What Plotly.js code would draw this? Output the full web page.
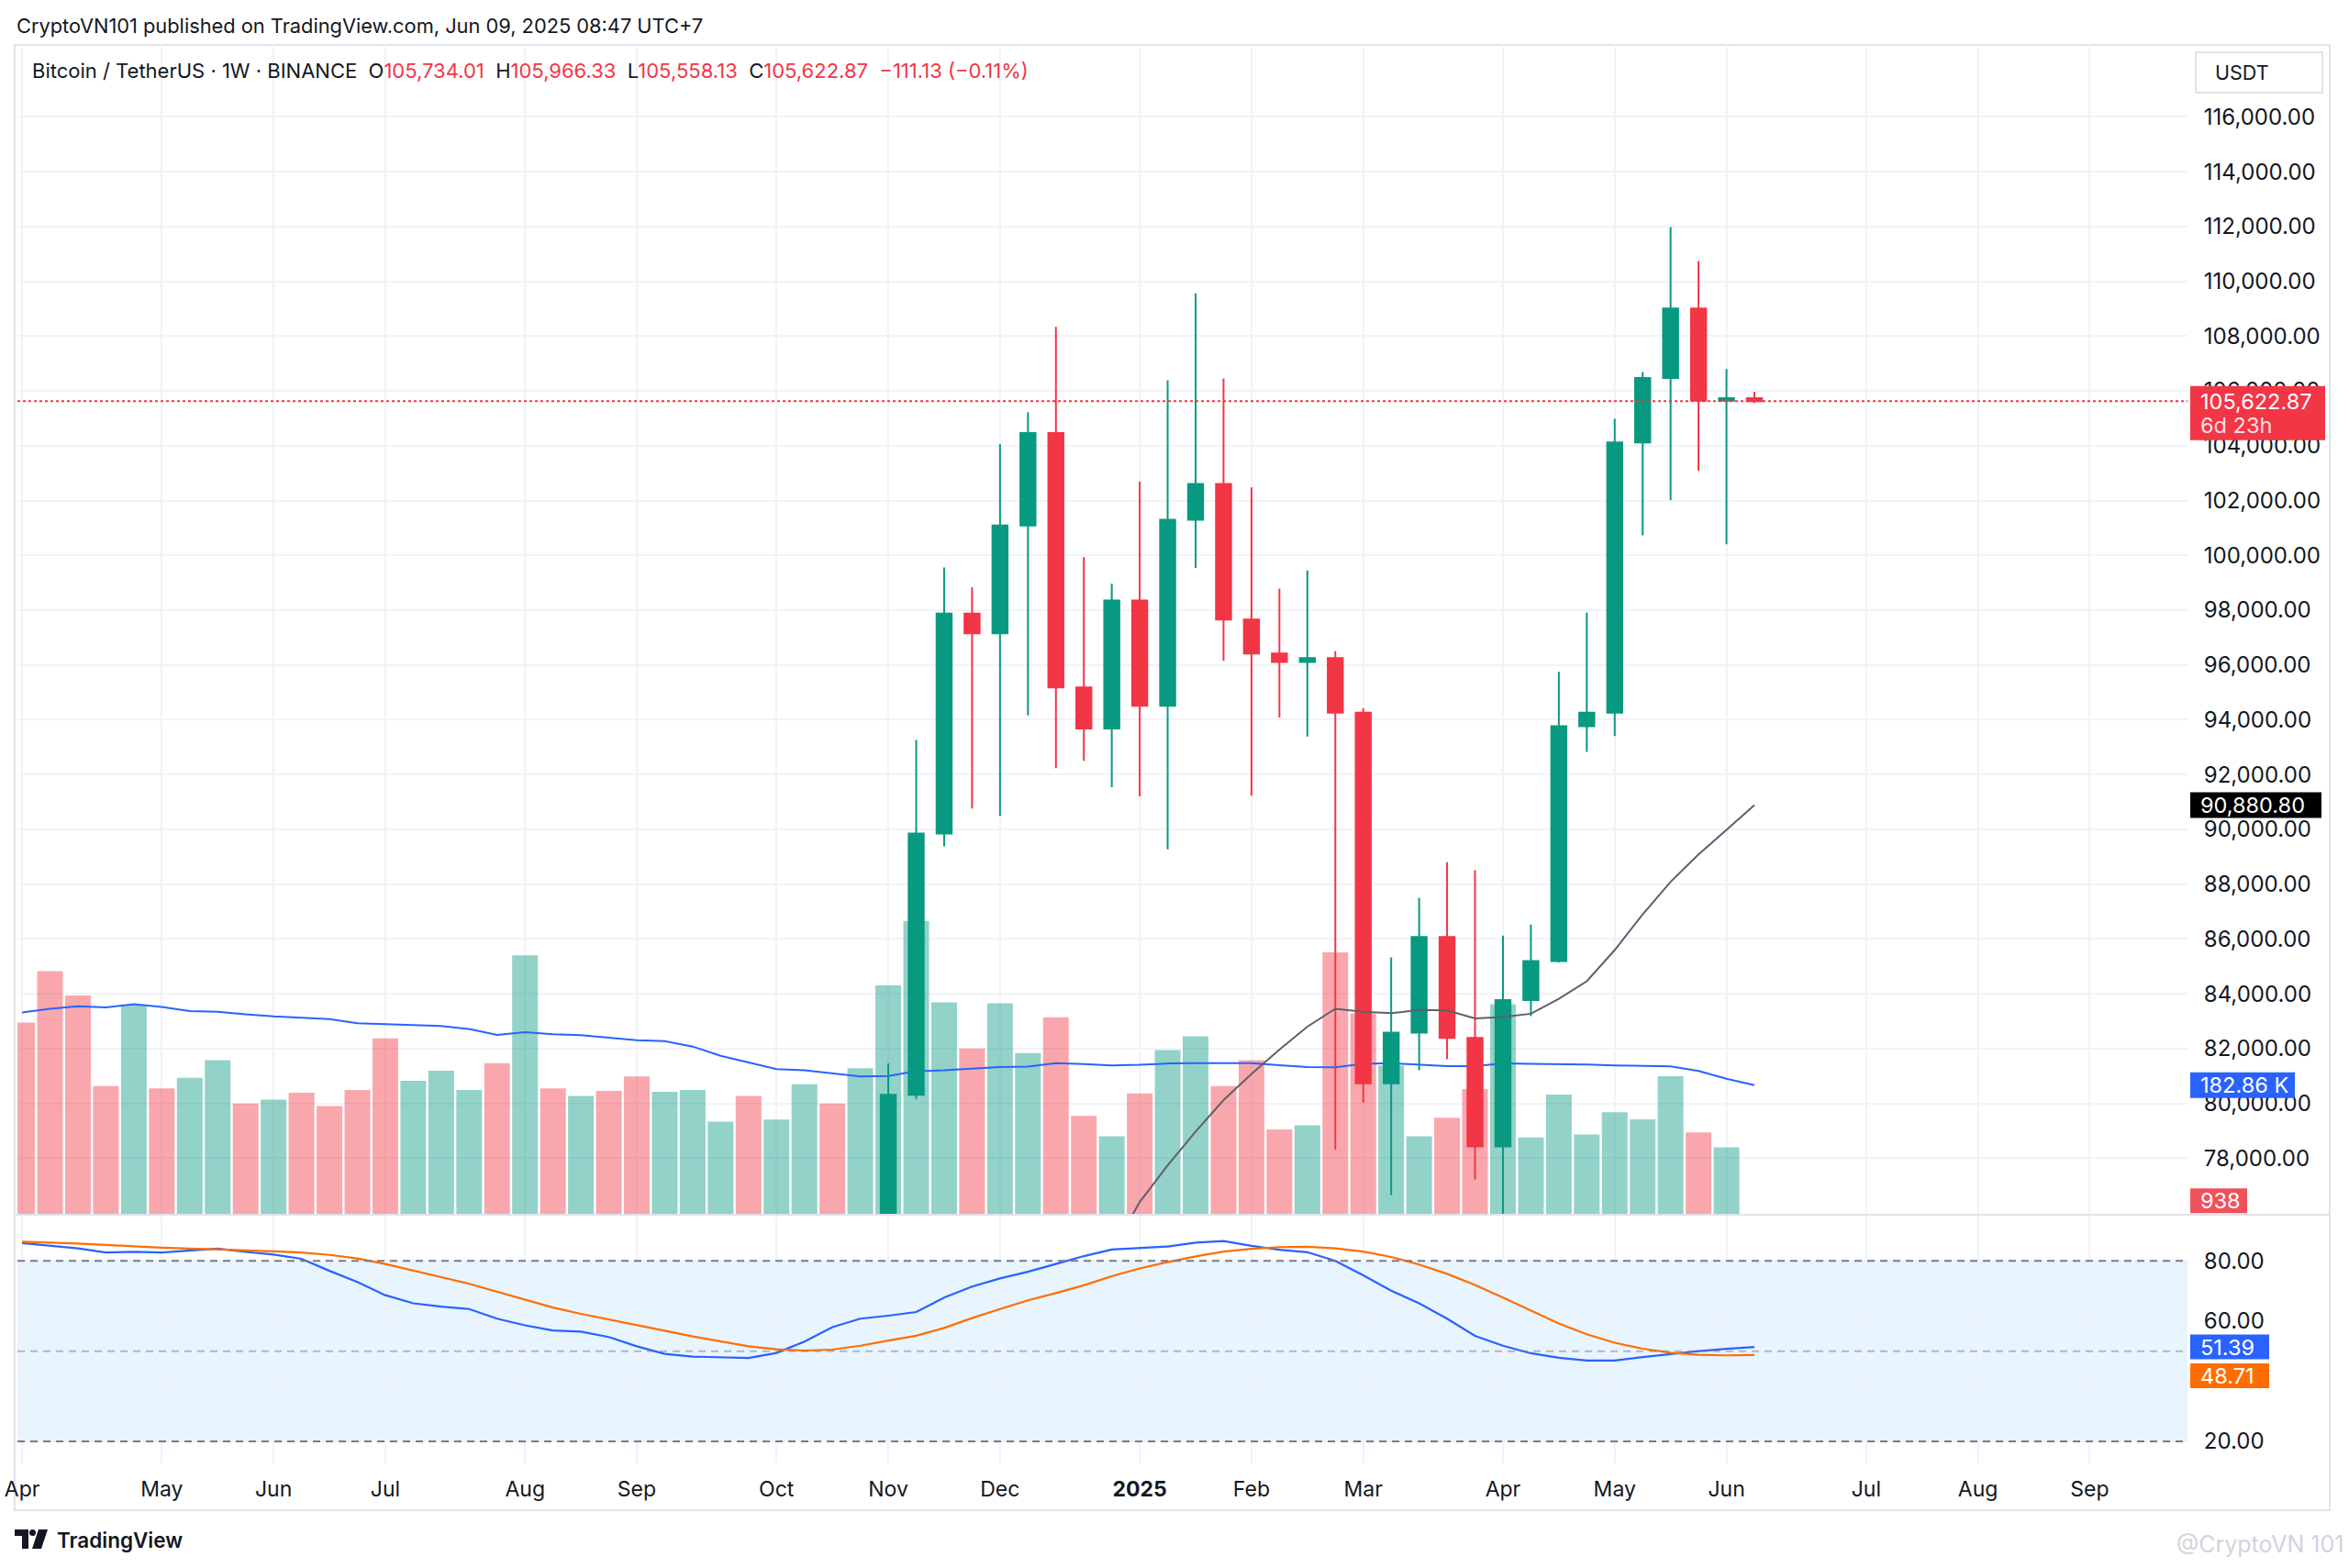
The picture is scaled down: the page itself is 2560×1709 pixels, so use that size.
<!DOCTYPE html>
<html><head><meta charset="utf-8">
<script src="https://cdn.plot.ly/plotly-3.0.1.min.js"></script>
<style>html,body{margin:0;padding:0;background:#fff}#chart{width:2560px;height:1709px}</style>
</head><body><div id="chart"></div>
<script>
// ---------------- DATA ----------------
const weekDates = [
 '2024-04-01','2024-04-08','2024-04-15','2024-04-22','2024-04-29','2024-05-06','2024-05-13','2024-05-20','2024-05-27',
 '2024-06-03','2024-06-10','2024-06-17','2024-06-24','2024-07-01','2024-07-08','2024-07-15','2024-07-22','2024-07-29',
 '2024-08-05','2024-08-12','2024-08-19','2024-08-26','2024-09-02','2024-09-09','2024-09-16','2024-09-23','2024-09-30',
 '2024-10-07','2024-10-14','2024-10-21','2024-10-28','2024-11-04','2024-11-11','2024-11-18','2024-11-25',
 '2024-12-02','2024-12-09','2024-12-16','2024-12-23','2024-12-30','2025-01-06','2025-01-13','2025-01-20','2025-01-27',
 '2025-02-03','2025-02-10','2025-02-17','2025-02-24','2025-03-03','2025-03-10','2025-03-17','2025-03-24','2025-03-31',
 '2025-04-07','2025-04-14','2025-04-21','2025-04-28','2025-05-05','2025-05-12','2025-05-19','2025-05-26','2025-06-02','2025-06-09'
];
const volumes = [
 271200,343900,309400,181600,296400,178300,193400,218200,156900,162600,
 172100,153500,176000,249100,189100,203400,176000,213900,366000,178300,
 167800,174700,195200,173400,176000,131300,167800,134300,184300,156900,206900,
 323800,414700,299900,234700,298600,228200,278700,139500,110800,
 171200,232500,251700,181600,218200,120400,126100,370300,284300,210600,
 110800,136900,177300,297300,109000,169500,113400,144700,134800,195600,116100,95200,938
];
// direction of the weekly bars before the first visible candle (1 = up week, 0 = down week)
const earlyVolumeUp = [0,0,0,0,1,0,1,1,0,1,0,0,0,0,1,1,1,0,1,0,1,0,0,1,1,1,0,1,1,0,1];
const volumeMA = [
 285600,290600,294300,292700,297300,293400,287600,286600,282900,279900,
 278200,276100,270400,269100,267800,266300,262100,253900,257800,254700,
 253400,249900,246500,245100,237400,224300,214700,205600,203900,199500,195100,
 196000,202500,203900,206100,208600,209100,213900,212600,210800,
 211700,213500,213900,213900,213900,211200,208600,208200,213000,213900,
 211700,209900,209900,213500,213000,212600,212200,210800,209900,209500,203000,192000,182860
];
const stochK = [
 85.9,85.1,84.2,82.8,83.0,82.8,83.4,84.1,83.0,82.1,
 80.7,76.7,73.0,68.6,65.9,64.8,64.0,60.8,58.6,56.9,
 56.5,54.7,51.6,49.1,48.2,47.9,47.7,49.4,53.2,58.0,60.8,
 61.8,63.0,67.8,71.5,74.2,76.4,79.0,81.6,83.8,
 84.3,84.8,86.1,86.6,85.0,83.7,82.9,80.0,75.2,70.1,
 65.9,60.8,55.1,51.8,49.3,47.8,46.9,46.9,48.0,49.1,50.0,50.8,51.39
];
const stochD = [
 86.4,86.2,85.8,85.3,84.8,84.4,84.1,83.9,83.5,83.2,
 82.8,82.0,80.8,79.0,76.9,74.6,72.4,69.8,67.1,64.5,
 62.4,60.6,58.7,56.8,54.9,53.2,51.6,50.6,50.2,50.5,51.8,
 53.5,55.1,57.7,61.0,64.0,66.9,69.3,71.9,74.9,
 77.5,79.6,81.5,83.1,84.0,84.6,84.7,84.2,83.1,81.3,
 78.8,75.7,72.0,67.8,63.5,59.2,55.6,52.8,50.8,49.5,48.8,48.6,48.71
];
// candles visible in the price pane (from 2024-11-04)
const candleOpen = [68742,80310,89850,97870,97150,101090,104460,95180,93680,98350,94510,101300,102600,97660,96420,96110,
 96250,94260,80730,82580,86070,82390,78430,83770,85190,93760,94260,104120,106470,109010,105640,105734.01];
const candleHigh = [81460,93260,99560,98840,104060,105220,108340,99930,98960,102690,106390,109560,106450,102480,98790,99450,
 96500,94420,85330,87490,88800,88510,86120,86520,95750,97910,104980,106690,111980,110740,106800,105966.33];
const candleLow = [66835,80160,89380,90760,90490,94160,92230,92500,91540,91200,89270,99540,96150,91230,94080,93390,
 78310,80020,76650,81210,81610,77220,74510,83180,85140,92830,93400,100730,102010,103080,100400,105558.13];
const candleClose = [80310,89850,97870,97150,101090,104460,95180,93680,98350,94510,101300,102600,97660,96420,96110,96250,
 94260,80730,82580,86070,82390,78430,83770,85190,93760,94260,104120,106470,109010,105640,105734.00,105622.87];
// price moving average line (from 2024-12-30)
const priceMA = [74600,76400,77740,78970,80120,81070,81960,82800,83450,83340,83290,83410,83390,83100,83150,83270,
 83815,84456,85594,86899,88085,89082,89983,90880.80];
// axis ticks
const monthTickDates = ['2024-04-01','2024-05-06','2024-06-03','2024-07-01','2024-08-05','2024-09-02','2024-10-07',
 '2024-11-04','2024-12-02','2025-01-06','2025-02-03','2025-03-03','2025-04-07','2025-05-05','2025-06-02',
 '2025-07-07','2025-08-04','2025-09-01'];
const monthTickLabels = ['Apr','May','Jun','Jul','Aug','Sep','Oct','Nov','Dec','<b>2025</b>','Feb','Mar','Apr','May','Jun','Jul','Aug','Sep'];
const priceTicks = [78000,80000,82000,84000,86000,88000,90000,92000,94000,96000,98000,100000,
 102000,104000,106000,108000,110000,112000,114000,116000];
const stochTicks = [20,40,60,80];
const stochTickLabels = ['20.00','','60.00','80.00'];

// ---------------- derived ----------------
const candleDates = weekDates.slice(weekDates.indexOf('2024-11-04'));
const maDates = weekDates.slice(weekDates.indexOf('2024-12-30'));
const UP = '#089981', DOWN = '#F23645';
const volUp = earlyVolumeUp.concat(candleClose.map((c, i) => c >= candleOpen[i] ? 1 : 0));
const volColors = volUp.map(u => u ? 'rgba(8,153,129,0.44)' : 'rgba(242,54,69,0.44)');
const n = candleClose.length;
const lastO = candleOpen[n-1], lastH = candleHigh[n-1], lastL = candleLow[n-1], lastC = candleClose[n-1];
const chg = lastC - candleClose[n-2];
const fmt2 = v => v.toLocaleString('en-US', {minimumFractionDigits: 2, maximumFractionDigits: 2});
const fmtSigned = v => (v < 0 ? '\u2212' : '+') + fmt2(Math.abs(v));

const W = 2560, H = 1709;
const px = v => v / W, py = v => 1 - v / H;
const FONT = 'Inter, "Noto Sans", Roboto, sans-serif';
const TXT = '#131722';

// ---------------- traces ----------------
const traces = [
 {type:'bar', x:weekDates, y:volumes, xaxis:'x', yaxis:'y', marker:{color:volColors, line:{width:0}}, hoverinfo:'skip'},
 {type:'scatter', mode:'lines', x:weekDates, y:volumeMA, xaxis:'x', yaxis:'y', line:{color:'#2962FF', width:2}, hoverinfo:'skip'},
 {type:'candlestick', x:candleDates, open:candleOpen, high:candleHigh, low:candleLow, close:candleClose, xaxis:'x', yaxis:'y3',
  increasing:{line:{color:UP, width:2}, fillcolor:UP}, decreasing:{line:{color:DOWN, width:2}, fillcolor:DOWN},
  whiskerwidth:0, hoverinfo:'skip'},
 {type:'scatter', mode:'lines', x:maDates, y:priceMA, xaxis:'x', yaxis:'y3', line:{color:'#5d606b', width:2}, hoverinfo:'skip'},
 {type:'scatter', mode:'lines', x:weekDates, y:stochK, xaxis:'x', yaxis:'y2', line:{color:'#2962FF', width:2.2}, hoverinfo:'skip'},
 {type:'scatter', mode:'lines', x:weekDates, y:stochD, xaxis:'x', yaxis:'y2', line:{color:'#FF6D00', width:2.2}, hoverinfo:'skip'}
];

// ---------------- value labels on the right scale ----------------
function boxShape(yref, value, left, right, top, bottom, color) {
  return {type:'rect', xref:'paper', x0:px(left), x1:px(right), yref:yref, ysizemode:'pixel', yanchor:value,
          y0:bottom, y1:top, fillcolor:color, line:{width:0}, layer:'above'};
}
function boxText(yref, value, text, shift, color) {
  return {xref:'paper', x:px(2396), xanchor:'left', yref:yref, y:value, yanchor:'middle', yshift:shift,
          text:text, showarrow:false, font:{size:23.5, color:color || '#ffffff', family:FONT}};
}
const lastVol = volumes[volumes.length-1], lastVMA = volumeMA[volumeMA.length-1];
const lastK = stochK[stochK.length-1], lastD = stochD[stochD.length-1], lastMA = priceMA[priceMA.length-1];

const shapes = [
 // stochastic band
 {type:'rect', xref:'x domain', x0:0, x1:1, yref:'y2', y0:20, y1:80, fillcolor:'rgba(33,150,243,0.1)', line:{width:0}, layer:'below'},
 {type:'line', xref:'x domain', x0:0, x1:1, yref:'y2', y0:80, y1:80, line:{color:'#787B86', width:2, dash:'8px,6px'}},
 {type:'line', xref:'x domain', x0:0, x1:1, yref:'y2', y0:50, y1:50, line:{color:'rgba(120,123,134,0.5)', width:2, dash:'8px,6px'}},
 {type:'line', xref:'x domain', x0:0, x1:1, yref:'y2', y0:20, y1:20, line:{color:'#787B86', width:2, dash:'8px,6px'}},
 // last price line
 {type:'line', xref:'x domain', x0:0, x1:1, yref:'y3', y0:lastC, y1:lastC, line:{color:DOWN, width:2, dash:'dot'}},
 // frame and pane separator
 {type:'rect', xref:'paper', yref:'paper', x0:px(16), x1:px(2539), y0:py(1646), y1:py(49), line:{color:'#E0E3EB', width:2}, fillcolor:'rgba(0,0,0,0)', layer:'below'},
 {type:'line', xref:'paper', yref:'paper', x0:px(16), x1:px(2539), y0:py(1324), y1:py(1324), line:{color:'#E0E3EB', width:2}},
 // USDT box
 {type:'rect', xref:'paper', yref:'paper', x0:px(2393), x1:px(2531), y0:py(101), y1:py(57), line:{color:'#E0E3EB', width:2}, fillcolor:'#ffffff', layer:'above'},
 // right-scale labels
 boxShape('y3', lastC, 2387, 2534, 16.5, -42.5, DOWN),
 boxShape('y3', lastMA, 2387, 2530, 14, -14, '#000000'),
 boxShape('y', lastVMA, 2387, 2501, 14, -14, '#2962FF'),
 boxShape('y', lastVol, 2387, 2449, 28, 1, '#F0525B'),
 boxShape('y2', lastK, 2387, 2473, 13.5, -13.5, '#2962FF'),
 boxShape('y2', lastD, 2387, 2473, -9.2, -36.2, '#FF6D00'),
 // TradingView logo
 {type:'path', xref:'paper', yref:'paper', layer:'above', fillcolor:'#131722', line:{width:0},
  path:`M${px(16)},${py(1667)} L${px(31)},${py(1667)} L${px(31)},${py(1688)} L${px(24)},${py(1688)} L${px(24)},${py(1674)} L${px(16)},${py(1674)} Z`},
 {type:'circle', xref:'paper', yref:'paper', layer:'above', fillcolor:'#131722', line:{width:0},
  x0:px(32), x1:px(39), y0:py(1674), y1:py(1667)},
 {type:'path', xref:'paper', yref:'paper', layer:'above', fillcolor:'#131722', line:{width:0},
  path:`M${px(42)},${py(1667)} L${px(52)},${py(1667)} L${px(45)},${py(1688)} L${px(35)},${py(1688)} Z`}
];

const red = s => `<span style="color:${DOWN}">${s}</span>`;
const legendText = 'Bitcoin / TetherUS \u00b7 1W \u00b7 BINANCE\u00a0\u00a0O' + red(fmt2(lastO)) +
  '\u00a0\u00a0H' + red(fmt2(lastH)) + '\u00a0\u00a0L' + red(fmt2(lastL)) + '\u00a0\u00a0C' + red(fmt2(lastC)) +
  '\u00a0\u00a0' + red(fmtSigned(chg) + ' (' + fmtSigned(chg / candleClose[n-2] * 100) + '%)');

const annotations = [
 {xref:'paper', yref:'paper', x:px(16), y:py(28), xanchor:'left', yanchor:'middle', showarrow:false,
  text:'CryptoVN101 published on TradingView.com, Jun 09, 2025 08:47 UTC+7', font:{size:21.8, color:TXT, family:FONT}},
 {xref:'paper', yref:'paper', x:px(33), y:py(77), xanchor:'left', yanchor:'middle', showarrow:false,
  text:legendText, font:{size:22, color:TXT, family:FONT}},
 {xref:'paper', yref:'paper', x:px(2412), y:py(79), xanchor:'left', yanchor:'middle', showarrow:false,
  text:'USDT', font:{size:21.5, color:TXT, family:FONT}},
 boxText('y3', lastC, fmt2(lastC), 0),
 boxText('y3', lastC, '6d 23h', -26, 'rgba(255,255,255,0.85)'),
 boxText('y3', lastMA, fmt2(lastMA), 0),
 boxText('y', lastVMA, (lastVMA/1000).toFixed(2) + '\u00a0K', 0),
 boxText('y', lastVol, String(lastVol), 14.5),
 boxText('y2', lastK, lastK.toFixed(2), 0),
 boxText('y2', lastD, lastD.toFixed(2), -22.7),
 {xref:'paper', yref:'paper', x:px(60), y:py(1678), xanchor:'left', yanchor:'middle', showarrow:false,
  text:'TradingView', font:{size:22.5, color:TXT, family:FONT, weight:600}},
 {xref:'paper', yref:'paper', x:px(2556), y:py(1683), xanchor:'right', yanchor:'middle', showarrow:false,
  text:'@CryptoVN 101', font:{size:25, color:'#D1D4DC', family:FONT}}
];

const gridCol = '#F0F3FA';
const layout = {
 width:W, height:H, margin:{l:0, r:0, t:0, b:0}, paper_bgcolor:'#ffffff', plot_bgcolor:'rgba(0,0,0,0)',
 showlegend:false, hovermode:false, dragmode:false,
 font:{family:FONT, size:22, color:TXT},
 boxgap:0.23, bargap:0.08,
 xaxis:{type:'date', domain:[px(19), px(2384)], range:['2024-03-30 20:00', '2025-09-25 12:00'], anchor:'y2',
   tickmode:'array', tickvals:monthTickDates, ticktext:monthTickLabels, showgrid:true, gridcolor:gridCol, gridwidth:2,
   ticks:'outside', ticklen:7, tickcolor:'rgba(0,0,0,0)', showline:false, zeroline:false,
   rangeslider:{visible:false}, tickfont:{size:23, color:TXT}, fixedrange:true},
 yaxis:{domain:[py(1324), py(49)], range:[0, 1651000], visible:false, showgrid:false, zeroline:false, fixedrange:true},
 yaxis3:{overlaying:'y', side:'right', anchor:'x', range:[75934, 118625], tickmode:'array', tickvals:priceTicks,
   tickformat:',.2f', showgrid:true, gridcolor:gridCol, gridwidth:2, ticks:'outside', ticklen:12,
   tickcolor:'rgba(0,0,0,0)', zeroline:false, showline:false, tickfont:{size:24, color:TXT}, fixedrange:true},
 yaxis2:{domain:[py(1595), py(1325)], range:[12.68, 95.04], anchor:'x', side:'right', tickmode:'array',
   tickvals:stochTicks, ticktext:stochTickLabels, showgrid:true, gridcolor:gridCol, gridwidth:2, ticks:'outside',
   ticklen:12, tickcolor:'rgba(0,0,0,0)', zeroline:false, showline:false, tickfont:{size:24, color:TXT}, fixedrange:true},
 shapes:shapes,
 annotations:annotations
};

Plotly.newPlot('chart', traces, layout, {staticPlot:true, displayModeBar:false});
</script>
</body></html>
